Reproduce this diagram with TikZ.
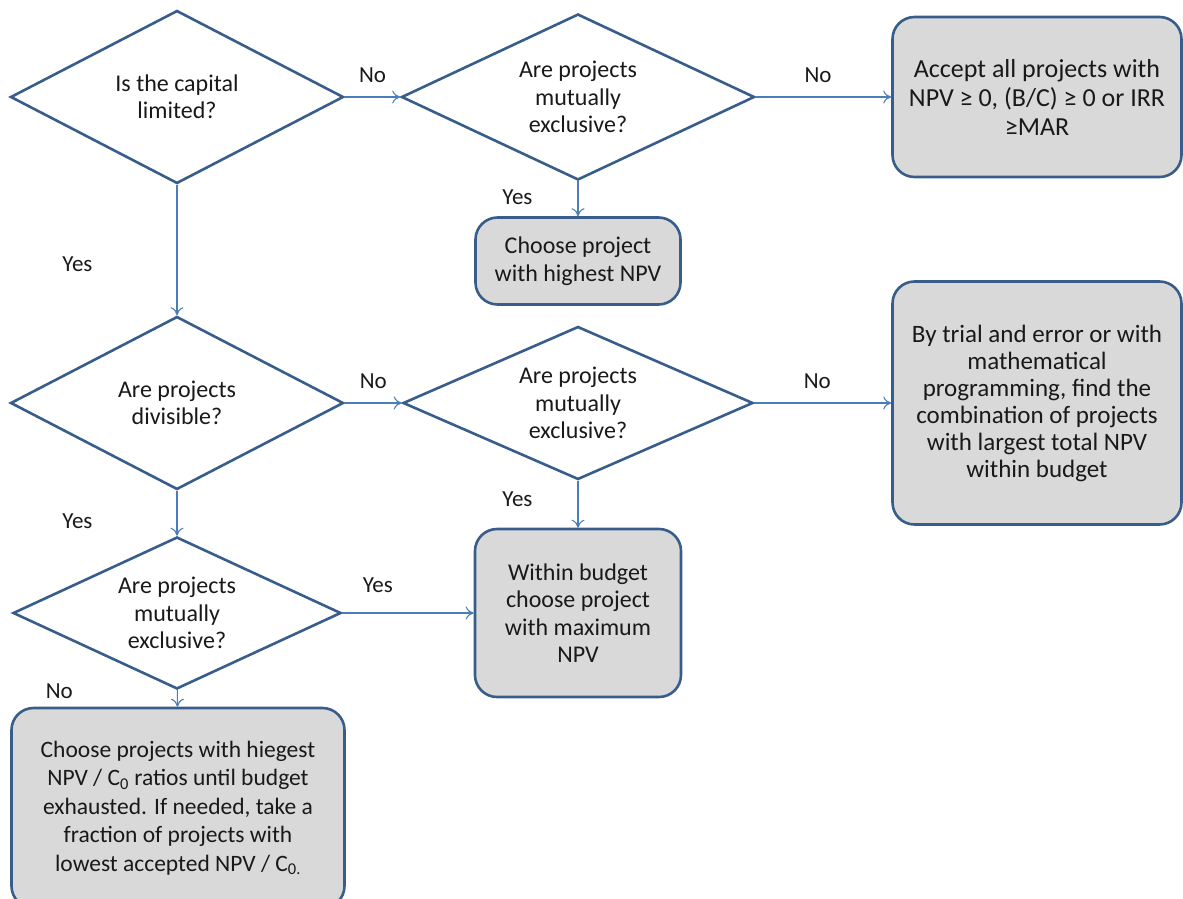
\documentclass[tikz,border=0pt]{standalone}
\usepackage{fontspec}
\setmainfont{Carlito}
\usetikzlibrary{shapes.geometric,arrows.meta}
\definecolor{lineblue}{HTML}{385D8A}
\definecolor{arrowblue}{HTML}{4A7EBB}
\definecolor{boxgray}{HTML}{D9D9D9}

\begin{document}
\begin{tikzpicture}[x=1pt,y=-1pt,>={To[length=8pt,width=13pt]},
  question/.style={diamond,draw=lineblue,line width=2.6pt,fill=white,aspect=2.3,
    inner sep=0pt,align=center,text=black!90,font=\fontsize{24}{27.5}\selectfont},
  action/.style={rectangle,rounded corners=22pt,draw=lineblue,line width=2.6pt,
    fill=boxgray,inner sep=0pt,align=center,text=black!90,font=\fontsize{24}{27.5}\selectfont},
  answer/.style={inner sep=2pt,text=black!90,font=\fontsize{23}{26}\selectfont}]
\useasboundingbox (0,0) rectangle (1183,899);
\clip (0,0) rectangle (1183,899);

% questions
\node[question,minimum width=333pt,minimum height=173pt] (capital)   at (177,97)  {Is the capital\\limited?};
\node[question,minimum width=353pt,minimum height=166pt] (exclA)     at (578,97)  {Are projects\\mutually\\exclusive?};
\node[question,minimum width=333pt,minimum height=173pt] (divisible) at (177,403) {Are projects\\divisible?};
\node[question,minimum width=350pt,minimum height=153pt] (exclB)     at (578,403) {Are projects\\mutually\\exclusive?};
\node[question,minimum width=328pt,minimum height=152pt] (exclC)     at (177,613) {Are projects\\mutually\\exclusive?};

% decisions
\node[action,minimum width=289pt,minimum height=160pt,font=\fontsize{26}{29}\selectfont] (acceptall) at (1037,97)
  {Accept all projects with\\NPV ≥ 0, (B/C) ≥ 0 or IRR\\≥MAR};
\node[action,minimum width=205pt,minimum height=87pt]  (highest)   at (578,261)  {Choose project\\with highest NPV};
\node[action,minimum width=289pt,minimum height=243pt,font=\fontsize{25}{27}\selectfont] (trial) at (1037,403)
  {By trial and error or with\\mathematical\\programming, find the\\combination of projects\\with largest total NPV\\within budget};
\node[action,minimum width=206pt,minimum height=168pt] (maximum)   at (578,613)  {Within budget\\choose project\\with maximum\\NPV};
\node[action,minimum width=333pt,minimum height=200pt,font=\fontsize{23.5}{28.5}\selectfont] (ratios) at (178,808)
  {Choose projects with hiegest\\NPV / C\textsubscript{0} ratios until budget\\exhausted. If needed, take a\\fraction of projects with\\lowest accepted NPV / C\textsubscript{0.}};

\path[->,draw=arrowblue,line width=1.1pt]
(capital)   edge node[answer,above=12pt]           {No}  (exclA)
(exclA)     edge node[answer,above=12pt,pos=0.46]  {No}  (acceptall)
(exclA)     edge node[answer,left=43pt,pos=0.45]   {Yes} (highest)
(capital)   edge node[answer,left=82pt,pos=0.61]   {Yes} (divisible)
(divisible) edge node[answer,above=12pt]           {No}  (exclB)
(exclB)     edge node[answer,above=12pt,pos=0.46]  {No}  (trial)
(exclB)     edge node[answer,left=43pt,pos=0.4]    {Yes} (maximum)
(divisible) edge node[answer,left=82pt,pos=0.68]   {Yes} (exclC)
(exclC)     edge node[answer,above=18pt,pos=0.27]  {Yes} (maximum)
(exclC)     edge node[answer,left=102pt,pos=0.05]  {No}  (ratios)
;
\end{tikzpicture}
\end{document}
